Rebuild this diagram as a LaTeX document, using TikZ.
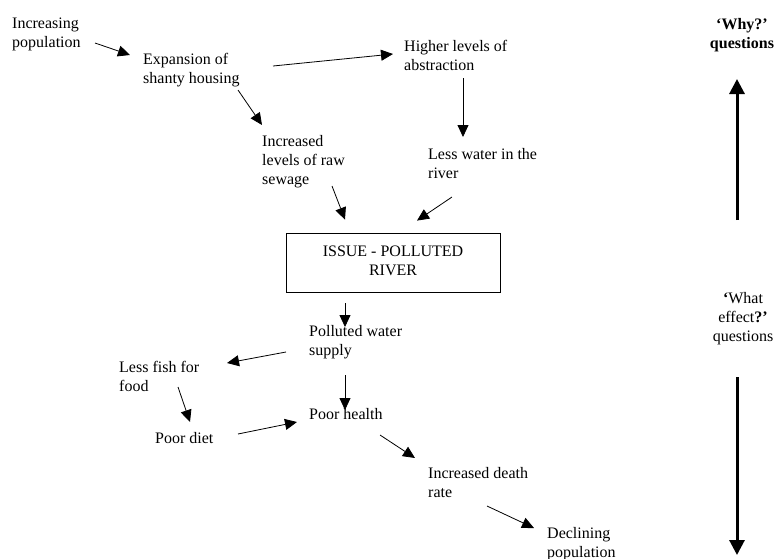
\documentclass[tikz,border=0pt]{standalone}
\usepackage{fontspec}
\setmainfont{Liberation Serif}
\usetikzlibrary{arrows.meta,calc}
\newcommand{\tl}[1]{\begin{tabular}[t]{@{}l@{}}#1\end{tabular}}
\newcommand{\tc}[1]{\begin{tabular}[t]{@{}c@{}}#1\end{tabular}}
\tikzset{
  lbl/.style={inner sep=0pt, anchor=base west, font=\fontsize{16}{19}\selectfont},
  clbl/.style={inner sep=0pt, anchor=base, font=\fontsize{16}{19}\selectfont},
  arr/.style={line width=0.8pt, -{Triangle[length=12pt,width=11pt]}},
  bigarr/.style={line width=3pt, -{Triangle[length=15pt,width=15pt]}},
  issuebox/.style={draw, line width=0.8pt, minimum width=214pt, minimum height=59pt,
    inner sep=0pt, font=\fontsize{16}{19}\selectfont}
}
\begin{document}
\begin{tikzpicture}[x=1pt,y=-1pt]
\useasboundingbox (0,0) rectangle (780,558);
% nodes
\node[lbl] (inc) at (12,28) {\tl{Increasing\\population}};
\node[lbl] (exp) at (143,64) {\tl{Expansion of\\shanty housing}};
\node[lbl] (high) at (404,51) {\tl{Higher levels of\\abstraction}};
\node[lbl] (sew) at (262,146) {\tl{Increased\\levels of raw\\sewage}};
\node[lbl] (less) at (428,159) {\tl{Less water in the\\river}};
\node[issuebox] (box) at (393,262.5) {\begin{tabular}{@{}c@{}}ISSUE - POLLUTED\\RIVER\end{tabular}};
\node[lbl] (pol) at (309,336) {\tl{Polluted water\\supply}};
\node[lbl] (fish) at (119,372) {\tl{Less fish for\\food}};
\node[lbl] (health) at (309,419) {Poor health};
\node[lbl] (diet) at (155,443) {Poor diet};
\node[lbl] (death) at (428,478) {\tl{Increased death\\rate}};
\node[lbl] (decl) at (547,538) {\tl{Declining\\population}};
\node[clbl] (why) at (742,29) {\tc{\textbf{`Why?'}\\\textbf{questions}}};
\node[clbl] (what) at (743,303) {\tc{\textbf{`}What\\effect\textbf{?'}\\questions}};
\coordinate (bottom) at (737,555);
% connectors
\draw[arr] ([shift={(83,15)}]inc.base west) -- ([shift={(-13,-9)}]exp.base west);
\draw[arr] ([shift={(130,2)}]exp.base west) -- ([shift={(-11,3)}]high.base west);
\draw[arr] ([shift={(95,26)}]exp.base west) -- ([shift={(0,-21)}]sew.base west);
\draw[arr] ([shift={(59,27)}]high.base west) -- ([shift={(35,-22)}]less.base west);
\draw[arr] ([shift={(70,40)}]sew.base west) -- ([shift={(-48,-13)}]box.north);
\draw[arr] ([shift={(24,38)}]less.base west) -- ([shift={(24,-12)}]box.north);
\draw[arr] ([shift={(-48,11)}]box.south) -- ([shift={(36,-9)}]pol.base west);
\draw[arr] ([shift={(-23,16)}]pol.base west) -- ([shift={(108,-9)}]fish.base west);
\draw[arr] ([shift={(36,39)}]pol.base west) -- ([shift={(36,-9)}]health.base west);
\draw[arr] ([shift={(59,15)}]fish.base west) -- ([shift={(35,-21)}]diet.base west);
\draw[arr] ([shift={(83,-9)}]diet.base west) -- ([shift={(-12,3)}]health.base west);
\draw[arr] ([shift={(71,16)}]health.base west) -- ([shift={(-13,-20)}]death.base west);
\draw[arr] ([shift={(59,28)}]death.base west) -- ([shift={(-13,-10)}]decl.base west);
\draw[bigarr] ([shift={(-6,-83)}]what.base) -- ([shift={(-5,50)}]why.base);
\draw[bigarr] ([shift={(-6,74)}]what.base) -- (bottom);
\end{tikzpicture}
\end{document}
